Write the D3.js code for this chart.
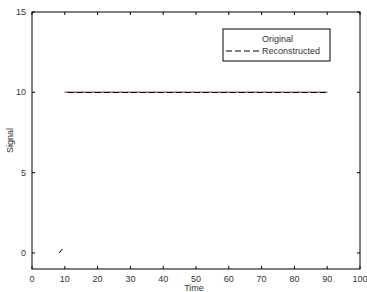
<!DOCTYPE html>
<html>
<head>
<meta charset="utf-8">
<script src="https://cdn.jsdelivr.net/npm/d3@7"></script>
<style>
  body { margin: 0; background: #fff; }
  text { font-family: "Liberation Sans", Arial, sans-serif; }
</style>
</head>
<body>
<svg id="chart" width="367" height="292"></svg>
<script>
// chart values
const xTicks = [0, 10, 20, 30, 40, 50, 60, 70, 80, 90, 100];
const yTicks = [0, 5, 10, 15];
// original signal: short ramp near zero, then the flat part at 10
const originalStart = [{t: 8.3, v: 0}, {t: 9.3, v: 0.25}];
const originalFlat = [{t: 10, v: 10}, {t: 90, v: 10}];
const reconstructed = [{t: 10, v: 10}, {t: 90, v: 10}];
const legendLabels = ['Original', 'Reconstructed'];

const svg = d3.select('#chart');
const margin = {left: 32, right: 7, top: 12, bottom: 23};
const W = 367, H = 292;

const x = d3.scaleLinear().domain([0, 100]).range([margin.left, W - margin.right]);
const y = d3.scaleLinear().domain([-1, 15]).range([H - margin.bottom, margin.top]);

// frame
svg.append('rect')
  .attr('x', x(0)).attr('y', y(15))
  .attr('width', x(100) - x(0)).attr('height', y(-1) - y(15))
  .attr('fill', '#fff').attr('stroke', '#000').attr('stroke-width', 1);

// inward ticks on all four sides, matlab style
const tickLen = 3;
const g = svg.append('g').attr('stroke', '#000').attr('stroke-width', 1);
xTicks.forEach(t => {
  g.append('line').attr('x1', x(t)).attr('x2', x(t)).attr('y1', y(-1)).attr('y2', y(-1) - tickLen);
  g.append('line').attr('x1', x(t)).attr('x2', x(t)).attr('y1', y(15)).attr('y2', y(15) + tickLen);
});
yTicks.forEach(t => {
  g.append('line').attr('x1', x(0)).attr('x2', x(0) + tickLen).attr('y1', y(t)).attr('y2', y(t));
  g.append('line').attr('x1', x(100)).attr('x2', x(100) - tickLen).attr('y1', y(t)).attr('y2', y(t));
});

// tick labels
svg.append('g').selectAll('text').data(xTicks).enter().append('text')
  .attr('x', d => x(d)).attr('y', y(-1) + 13)
  .attr('text-anchor', 'middle').attr('font-size', 9).attr('fill', '#333')
  .text(d => d);
svg.append('g').selectAll('text').data(yTicks).enter().append('text')
  .attr('x', x(0) - 6).attr('y', d => y(d) + 3)
  .attr('text-anchor', 'end').attr('font-size', 9).attr('fill', '#333')
  .text(d => d);

// axis titles
svg.append('text')
  .attr('x', 194).attr('y', H - 1)
  .attr('text-anchor', 'middle').attr('font-size', 9).attr('fill', '#333')
  .text('Time');
svg.append('text')
  .attr('transform', `translate(13, ${(y(-1) + y(15)) / 2}) rotate(-90)`)
  .attr('text-anchor', 'middle').attr('font-size', 9).attr('fill', '#333')
  .text('Signal');

// lines
const line = d3.line().x(d => x(d.t)).y(d => y(d.v));
svg.append('path').attr('d', line(originalStart))
  .attr('fill', 'none').attr('stroke', '#000').attr('stroke-width', 1);
svg.append('path').attr('d', line(originalFlat))
  .attr('fill', 'none').attr('stroke', '#000').attr('stroke-width', 1.2);
svg.append('path').attr('d', line(reconstructed))
  .attr('fill', 'none').attr('stroke', '#e0606a').attr('stroke-width', 1.2)
  .attr('stroke-dasharray', '3,6');

// legend
const lg = svg.append('g').attr('transform', 'translate(223, 29)');
lg.append('rect').attr('width', 107).attr('height', 32)
  .attr('fill', '#fff').attr('stroke', '#000').attr('stroke-width', 1);
lg.append('line').attr('x1', 3).attr('x2', 37).attr('y1', 22).attr('y2', 22)
  .attr('stroke', '#000').attr('stroke-width', 1).attr('stroke-dasharray', '6,3');
legendLabels.forEach((lab, i) => {
  lg.append('text').attr('x', 39).attr('y', 13 + i * 12)
    .attr('font-size', 9).attr('fill', '#333').text(lab);
});
</script>
</body>
</html>
